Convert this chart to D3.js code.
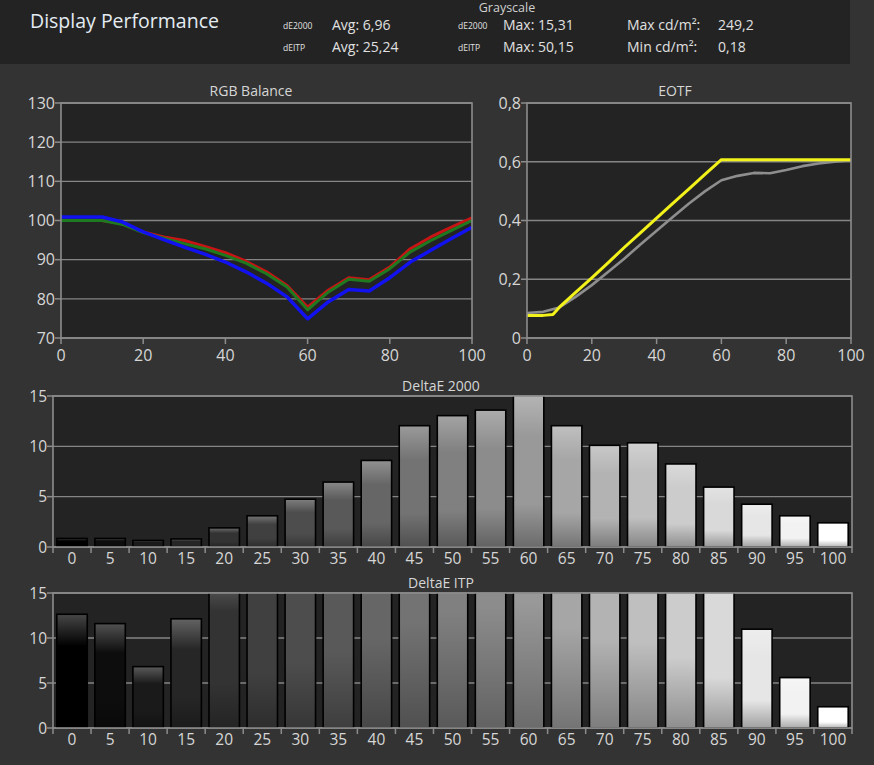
<!DOCTYPE html>
<html>
<head>
<meta charset="utf-8">
<script src="https://cdn.jsdelivr.net/npm/d3@7"></script>
<style>
  html, body { margin: 0; padding: 0; background: #333333; }
  svg { display: block; }
  text { font-family: "Open Sans", "Noto Sans", sans-serif; }
</style>
</head>
<body>
<svg id="chart" width="874" height="765"></svg>
<script>
// ---------- DATA ----------
const stimulus = [0,5,10,15,20,25,30,35,40,45,50,55,60,65,70,75,80,85,90,95,100];

const rgbRed   = [100.0,100.0,100.0,99.2,97.1,95.8,94.9,93.4,91.8,89.6,86.9,83.4,77.9,82.2,85.4,84.9,88.1,92.8,95.8,98.3,100.7];
const rgbGreen = [100.0,100.0,100.0,99.0,96.9,95.5,94.1,92.8,91.1,89.1,86.4,83.0,77.2,81.7,85.0,84.5,87.7,92.0,94.9,97.5,100.0];
const rgbBlue  = [100.9,100.9,100.9,99.6,97.1,95.1,93.2,91.4,89.4,86.9,84.0,80.5,74.9,79.2,82.4,82.0,85.4,89.4,92.4,95.4,98.3];
const rgbTicks = [70,80,90,100,110,120,130];

const eotfTargetX = [0,5,8,10,15,20,25,30,35,40,45,50,55,60,65,70,75,80,85,90,95,100];
const eotfTarget  = [0.077,0.077,0.08,0.105,0.155,0.205,0.256,0.308,0.358,0.408,0.458,0.508,0.558,0.607,0.607,0.607,0.607,0.607,0.607,0.607,0.607,0.607];
const eotfMeasured = [0.085,0.089,0.104,0.140,0.180,0.225,0.270,0.318,0.365,0.412,0.458,0.500,0.537,0.552,0.562,0.561,0.572,0.585,0.594,0.600,0.605];
const eotfTicks = [0,0.2,0.4,0.6,0.8];
const pctTicks = [0,20,40,60,80,100];

const de2000 = [0.85,0.85,0.65,0.8,1.9,3.1,4.75,6.45,8.6,12.05,13.05,13.6,15.31,12.05,10.1,10.35,8.25,5.95,4.25,3.1,2.4];
const deITP  = [12.64,11.6,6.82,12.13,18.0,22.0,26.0,30.0,35.0,42.0,46.0,48.0,50.15,40.0,35.0,34.0,28.0,20.0,10.98,5.6,2.36];
const deTicks = [0,5,10,15];

const headerRows = [
  {tag:"dE2000", avg:"Avg: 6,96",  tag2:"dE2000", max:"Max: 15,31", lum:"Max cd/m²:", lumVal:"249,2"},
  {tag:"dEITP",  avg:"Avg: 25,24", tag2:"dEITP",  max:"Max: 50,15", lum:"Min cd/m²:", lumVal:"0,18"}
];

// ---------- STYLE ----------
const C = {
  plotBg: "#232323",
  header: "#232323",
  frame: "#8c8c8c",
  grid: "#858585",
  label: "#d6d6d6",
  title: "#d6d6d6"
};

const svg = d3.select("#chart");
const defs = svg.append("defs");

// ---------- HEADER ----------
svg.append("rect").attr("x",0).attr("y",0).attr("width",850).attr("height",64).attr("fill",C.header);
svg.append("text").attr("x",30).attr("y",28).attr("fill","#e4ecf2")
  .style("font-size","19.5px").text("Display Performance");
svg.append("text").attr("x",507).attr("y",12).attr("text-anchor","middle").attr("fill","#d0d0d0")
  .style("font-size","12.5px").text("Grayscale");
headerRows.forEach((r,i) => {
  const y = 30 + i*22;
  const g = svg.append("g").attr("fill","#e0e0e0");
  g.append("text").attr("x",283).attr("y",y-1).style("font-size","8.5px").text(r.tag);
  g.append("text").attr("x",332).attr("y",y).style("font-size","14px").text(r.avg);
  g.append("text").attr("x",458).attr("y",y-1).style("font-size","8.5px").text(r.tag2);
  g.append("text").attr("x",503).attr("y",y).style("font-size","14px").text(r.max);
  g.append("text").attr("x",627).attr("y",y).style("font-size","14px").text(r.lum);
  g.append("text").attr("x",718).attr("y",y).style("font-size","14px").text(r.lumVal);
});

// ---------- HELPERS ----------
function frameAndBg(x0,y0,x1,y1){
  svg.append("rect").attr("x",x0).attr("y",y0).attr("width",x1-x0).attr("height",y1-y0).attr("fill",C.plotBg);
}
function frame(x0,y0,x1,y1){
  svg.append("rect").attr("x",x0).attr("y",y0).attr("width",x1-x0).attr("height",y1-y0)
    .attr("fill","none").attr("stroke",C.frame).attr("stroke-width",1.6);
}
function yAxis(y, ticks, x0, x1, fmt, fs){
  const g = svg.append("g");
  g.selectAll("line.grid").data(ticks).join("line")
    .attr("x1",x0).attr("x2",x1).attr("y1",d=>y(d)).attr("y2",d=>y(d))
    .attr("stroke",C.grid).attr("stroke-width",1.3);
  g.selectAll("line.tk").data(ticks).join("line")
    .attr("x1",x0-6).attr("x2",x0).attr("y1",d=>y(d)).attr("y2",d=>y(d))
    .attr("stroke",C.frame).attr("stroke-width",1.5);
  g.selectAll("text").data(ticks).join("text")
    .attr("x",x0-6).attr("y",d=>y(d)).attr("dy","0.36em").attr("text-anchor","end")
    .attr("fill",C.label).style("font-size",fs+"px").text(fmt);
}
const commaFmt = d => d === 0 ? "0" : d3.format(".1f")(d).replace(".", ",");

// ---------- LINE PANEL: RGB BALANCE ----------
(function(){
  const x0=61, x1=472, y0=103, y1=338;
  const x = d3.scaleLinear().domain([0,100]).range([x0,x1]);
  const y = d3.scaleLinear().domain([70,130]).range([y1,y0]);
  frameAndBg(x0,y0,x1,y1);
  yAxis(y, rgbTicks, x0, x1, d=>d, 16);
  svg.append("g").selectAll("line").data(pctTicks).join("line")
    .attr("x1",d=>x(d)).attr("x2",d=>x(d)).attr("y1",y1).attr("y2",y1+6)
    .attr("stroke",C.frame).attr("stroke-width",1.5);
  svg.append("g").selectAll("text").data(pctTicks).join("text")
    .attr("x",d=>x(d)).attr("y",y1+23).attr("text-anchor","middle")
    .attr("fill",C.label).style("font-size","16px").text(d=>d);
  const line = d3.line().x((d,i)=>x(stimulus[i])).y(d=>y(d));
  const series = [
    {v: rgbRed, c:"#c81414", w:3},
    {v: rgbGreen, c:"#1f7a1f", w:3},
    {v: rgbBlue, c:"#1212f0", w:3.5}
  ];
  series.forEach(s => svg.append("path").datum(s.v).attr("d",line)
    .attr("fill","none").attr("stroke",s.c).attr("stroke-width",s.w).attr("stroke-linejoin","round"));
  frame(x0,y0,x1,y1);
  svg.append("text").attr("x",251).attr("y",96).attr("text-anchor","middle")
    .attr("fill",C.title).style("font-size","14px").text("RGB Balance");
})();

// ---------- LINE PANEL: EOTF ----------
(function(){
  const x0=527, x1=851, y0=103, y1=338;
  const x = d3.scaleLinear().domain([0,100]).range([x0,x1]);
  const y = d3.scaleLinear().domain([0,0.8]).range([y1,y0]);
  frameAndBg(x0,y0,x1,y1);
  yAxis(y, eotfTicks, x0, x1, commaFmt, 16);
  svg.append("g").selectAll("line").data(pctTicks).join("line")
    .attr("x1",d=>x(d)).attr("x2",d=>x(d)).attr("y1",y1).attr("y2",y1+6)
    .attr("stroke",C.frame).attr("stroke-width",1.5);
  svg.append("g").selectAll("text").data(pctTicks).join("text")
    .attr("x",d=>x(d)).attr("y",y1+23).attr("text-anchor","middle")
    .attr("fill",C.label).style("font-size","16px").text(d=>d);
  const lineT = d3.line().x((d,i)=>x(eotfTargetX[i])).y(d=>y(d));
  const lineM = d3.line().x((d,i)=>x(stimulus[i])).y(d=>y(d));
  svg.append("path").datum(eotfMeasured).attr("d",lineM).attr("fill","none")
    .attr("stroke","#8e8e8e").attr("stroke-width",2.6).attr("stroke-linejoin","round");
  svg.append("path").datum(eotfTarget).attr("d",lineT).attr("fill","none")
    .attr("stroke","#f2f21a").attr("stroke-width",3).attr("stroke-linejoin","round");
  frame(x0,y0,x1,y1);
  svg.append("text").attr("x",675).attr("y",96).attr("text-anchor","middle")
    .attr("fill",C.title).style("font-size","14px").text("EOTF");
})();

// ---------- BAR PANELS ----------
stimulus.forEach((s,i) => {
  const base = d3.rgb(s/100*255, s/100*255, s/100*255);
  const top = d3.interpolateRgb(base, "#ffffff")(0.28);
  const bot = d3.interpolateRgb(base, "#000000")(0.3);
  const g = defs.append("linearGradient").attr("id","grad"+i)
    .attr("x1",0).attr("x2",0).attr("y1",0).attr("y2",1);
  g.append("stop").attr("offset","0%").attr("stop-color",top);
  g.append("stop").attr("offset","28%").attr("stop-color",base.formatHex());
  g.append("stop").attr("offset","72%").attr("stop-color",base.formatHex());
  g.append("stop").attr("offset","100%").attr("stop-color",bot);
});

function barPanel(id, values, y0, y1, title, titleY){
  const x0=53, x1=852;
  const x = d3.scaleBand().domain(stimulus).range([x0,x1]).paddingInner(0.2).paddingOuter(0.1);
  const y = d3.scaleLinear().domain([0,15]).range([y1,y0]);
  frameAndBg(x0,y0,x1,y1);
  yAxis(y, deTicks, x0, x1, d=>d, 15.5);
  defs.append("clipPath").attr("id","clip"+id).append("rect")
    .attr("x",x0).attr("y",y0).attr("width",x1-x0).attr("height",y1-y0);
  svg.append("g").attr("clip-path",`url(#clip${id})`)
    .selectAll("rect").data(values).join("rect")
    .attr("x",(d,i)=>x(stimulus[i]))
    .attr("width",x.bandwidth())
    .attr("y",d=>y(d))
    .attr("height",d=>y1-y(d))
    .attr("fill",(d,i)=>`url(#grad${i})`)
    .attr("stroke","#000").attr("stroke-width",1.6);
  const step = x.step();
  const bounds = d3.range(stimulus.length+1).map(i => x0 + i*step);
  svg.append("g").selectAll("line").data(bounds).join("line")
    .attr("x1",d=>d).attr("x2",d=>d).attr("y1",y1).attr("y2",y1+6)
    .attr("stroke",C.frame).attr("stroke-width",1.5);
  svg.append("g").selectAll("text").data(stimulus).join("text")
    .attr("x",d=>x(d)+x.bandwidth()/2).attr("y",y1+17).attr("text-anchor","middle")
    .attr("fill",C.label).style("font-size","15.5px").text(d=>d);
  frame(x0,y0,x1,y1);
  svg.append("text").attr("x",441).attr("y",titleY).attr("text-anchor","middle")
    .attr("fill",C.title).style("font-size","14px").text(title);
}
barPanel("a", de2000, 396, 547, "DeltaE 2000", 391);
barPanel("b", deITP, 593, 728, "DeltaE ITP", 588);
</script>
</body>
</html>
